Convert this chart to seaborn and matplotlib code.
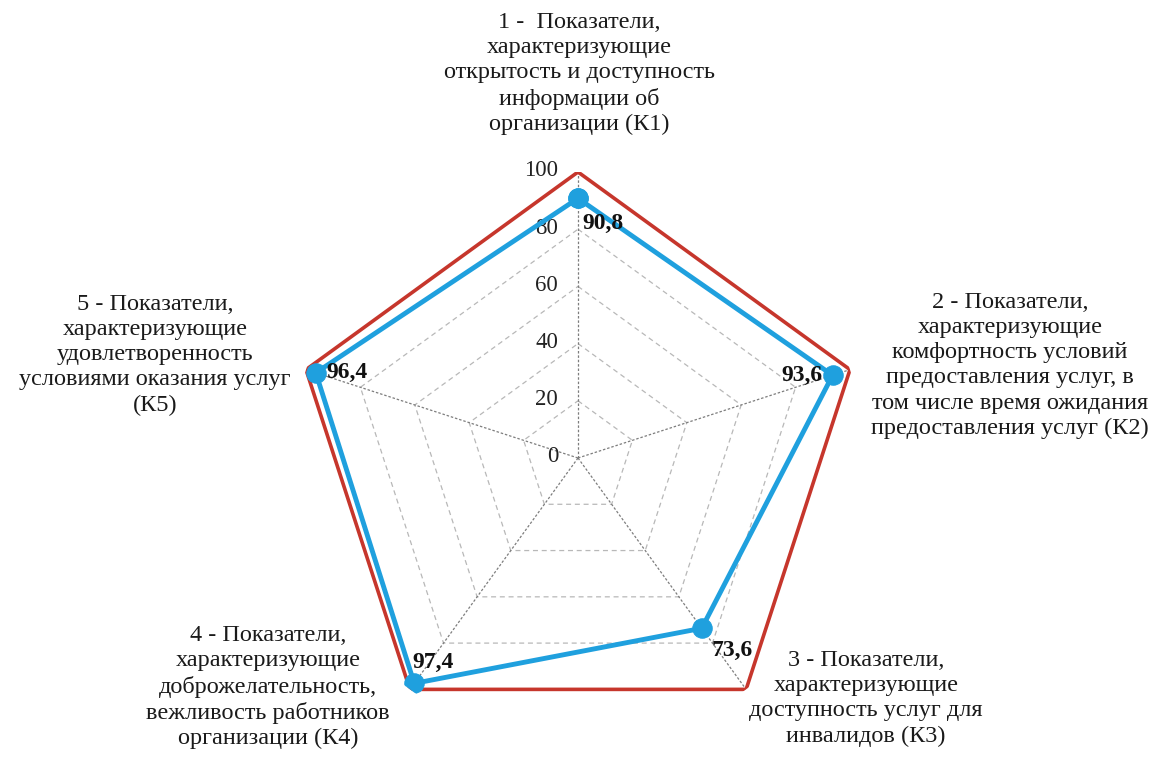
import numpy as np
import pandas as pd
import matplotlib
matplotlib.use("Agg")
import matplotlib.pyplot as plt
import seaborn as sns

# data
criteria = ["K1", "K2", "K3", "K4", "K5"]
values = [90.8, 93.6, 73.6, 97.4, 96.4]
max_values = [100, 100, 100, 100, 100]
value_labels = ["90,8", "93,6", "73,6", "97,4", "96,4"]
r_ticks = [0, 20, 40, 60, 80, 100]
axis_titles = [
    "1 -  Показатели,\nхарактеризующие\nоткрытость и доступность\nинформации об\nорганизации (К1)",
    "2 - Показатели,\nхарактеризующие\nкомфортность условий\nпредоставления услуг, в\nтом числе время ожидания\nпредоставления услуг (К2)",
    "3 - Показатели,\nхарактеризующие\nдоступность услуг для\nинвалидов (К3)",
    "4 - Показатели,\nхарактеризующие\nдоброжелательность,\nвежливость работников\nорганизации (К4)",
    "5 - Показатели,\nхарактеризующие\nудовлетворенность\nусловиями оказания услуг\n(К5)",
]

sns.set_theme(style="white")
plt.rcParams["font.family"] = ["Liberation Serif", "DejaVu Serif"]

W, H = 1156, 767
fig = plt.figure(figsize=(W / 100, H / 100), dpi=100)
cx, cy, R = 578, 458, 286
ax = fig.add_axes([(cx - R) / W, (H - cy - R) / H, 2 * R / W, 2 * R / H], projection="polar")
ax.set_theta_offset(np.pi / 2)
ax.set_theta_direction(-1)
ax.grid(False)
ax.spines["polar"].set_visible(False)
ax.patch.set_alpha(0)

n = len(criteria)
theta = np.linspace(0, 2 * np.pi, n, endpoint=False)
theta_c = np.append(theta, theta[0])

# pentagon grid + spokes
for r in r_ticks[1:-1]:
    ax.plot(theta_c, [r] * (n + 1), color="#b8b8b8", lw=0.9, ls=(0, (4, 3)), zorder=1)
for t in theta:
    ax.plot([t, t], [0, 100], color="#7d7d7d", lw=0.9, ls=(0, (2, 1.5)), zorder=1)

# r tick labels along the top spoke
for r in r_ticks:
    ax.annotate(str(r), (0, r), xytext=(-20, 1), textcoords="offset pixels",
                ha="right", va="center", fontsize=16.5, color="#222222")

df_max = pd.DataFrame({"theta": theta_c, "r": max_values + [max_values[0]]})
df_val = pd.DataFrame({"theta": theta_c, "r": values + [values[0]]})

sns.lineplot(data=df_max, x="theta", y="r", sort=False, estimator=None, ax=ax,
             color="#C6362C", lw=2.6, zorder=3)
sns.lineplot(data=df_val, x="theta", y="r", sort=False, estimator=None, ax=ax,
             color="#1FA0DE", lw=3.5, marker="o", markersize=14,
             markeredgecolor="#1FA0DE", zorder=4)
ax.set_xlabel("")
ax.set_ylabel("")
ax.set_xticks([])
ax.set_yticks([])
ax.set_ylim(0, 100)

# value labels (offset from each marker, in pixels)
offsets = [(4, -25, "left"), (-10, 0, "right"), (10, -22, "left"), (-2, 21, "left"), (11, 0, "left")]
for t, v, lab, (dx, dy, ha) in zip(theta, values, value_labels, offsets):
    ax.annotate(lab, (t, v), xytext=(dx, dy), textcoords="offset pixels",
                ha=ha, va="center", fontsize=17, fontweight="bold", color="#111111", zorder=5)

# category titles
title_pos = [(579, 12), (1010, 292), (866, 650), (268, 625), (155, 294)]
for txt, (px, py) in zip(axis_titles, title_pos):
    fig.text(px / W, 1 - py / H, txt, ha="center", va="top", fontsize=17.5,
             color="#1a1a1a", linespacing=1.26, multialignment="center")

fig.savefig("out.png", dpi=100)
